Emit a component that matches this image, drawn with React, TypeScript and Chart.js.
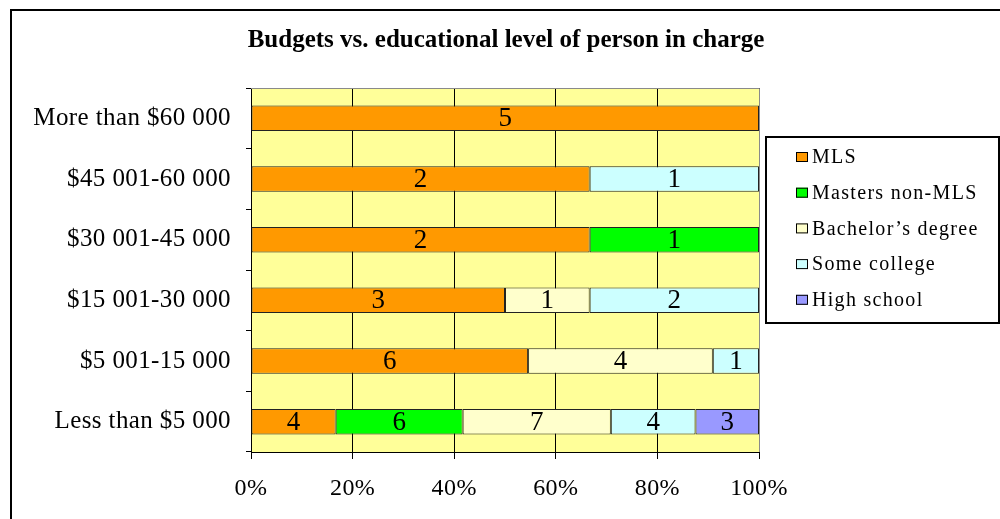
import React, { useEffect, useRef } from "react";
import { Chart, registerables } from "chart.js";
Chart.register(...registerables);

const titleText = "Budgets vs. educational level of person in charge";
const categories = [
  "More than $60 000",
  "$45 001-60 000",
  "$30 001-45 000",
  "$15 001-30 000",
  "$5 001-15 000",
  "Less than $5 000",
];
const seriesNames = ["MLS", "Masters non-MLS", "Bachelor’s degree", "Some college", "High school"];
const seriesColors = ["#FF9900", "#00FF00", "#FFFFCC", "#CCFFFF", "#9999FF"];
const mls = [5, 2, 2, 3, 6, 4];
const mastersNonMls = [null, null, 1, null, null, 6];
const bachelors = [null, null, null, 1, 4, 7];
const someCollege = [null, 1, null, 2, 1, 4];
const highSchool = [null, null, null, null, null, 3];
const xTickValues = [0, 20, 40, 60, 80, 100];

const FONT = "'Liberation Serif', 'Times New Roman', serif";

export default function App() {
  const ref = useRef<HTMLCanvasElement | null>(null);
  useEffect(() => {
    const canvas = ref.current;
    if (!canvas) return;
    const series = [mls, mastersNonMls, bachelors, someCollege, highSchool];
    const totals = categories.map((_, i) =>
      series.reduce((s, arr) => s + (arr[i] ?? 0), 0)
    );
    const datasets = series.map((arr, k) => ({
      label: seriesNames[k],
      data: arr.map((v, i) => (v == null ? null : (v / totals[i]) * 100)),
      counts: arr,
      backgroundColor: seriesColors[k],
      borderColor: "#222222",
      borderWidth: 1,
      borderSkipped: false,
      barPercentage: 0.42,
      categoryPercentage: 1,
    }));

    const decor = {
      id: "decor",
      beforeDraw(chart: any) {
        const { ctx, chartArea: a } = chart;
        (ctx as any).letterSpacing = "0.4px";
        ctx.save();
        ctx.fillStyle = "#ffffff";
        ctx.fillRect(0, 0, chart.width, chart.height);
        ctx.fillStyle = "#FFFF99";
        ctx.fillRect(a.left, a.top, a.right - a.left, a.bottom - a.top);
        // outer frame
        ctx.strokeStyle = "#000";
        ctx.lineWidth = 2;
        ctx.beginPath();
        ctx.moveTo(11, chart.height + 2);
        ctx.lineTo(11, 10);
        ctx.lineTo(chart.width + 2, 10);
        ctx.stroke();
        // title
        (ctx as any).letterSpacing = "0px";
        ctx.fillStyle = "#000";
        ctx.font = `bold 25px ${FONT}`;
        ctx.textAlign = "center";
        ctx.textBaseline = "middle";
        ctx.fillText(titleText, 506, 41);
        ctx.restore();
      },
      afterDraw(chart: any) {
        const { ctx, chartArea: a } = chart;
        ctx.save();
        // plot top/right border gray
        ctx.strokeStyle = "#8a8a8a";
        ctx.lineWidth = 1;
        ctx.beginPath();
        ctx.moveTo(a.left, a.top + 0.5);
        ctx.lineTo(a.right + 0.5, a.top + 0.5);
        ctx.lineTo(a.right + 0.5, a.bottom);
        ctx.stroke();
        // data labels
        (ctx as any).letterSpacing = "0px";
        ctx.fillStyle = "#000";
        ctx.font = `27px ${FONT}`;
        ctx.textAlign = "center";
        ctx.textBaseline = "middle";
        chart.data.datasets.forEach((ds: any, di: number) => {
          const meta = chart.getDatasetMeta(di);
          meta.data.forEach((el: any, i: number) => {
            const c = ds.counts[i];
            if (c == null) return;
            ctx.fillText(String(c), (el.x + el.base) / 2, el.y + 1);
          });
        });
        // legend
        const lx = 766, ly = 137, lw = 233, lh = 186;
        ctx.strokeStyle = "#000";
        ctx.lineWidth = 2;
        ctx.strokeRect(lx, ly, lw, lh);
        (ctx as any).letterSpacing = "1.3px";
        ctx.font = `20px ${FONT}`;
        ctx.textAlign = "left";
        chart.data.datasets.forEach((ds: any, di: number) => {
          const cy = 157 + di * 35.7;
          ctx.fillStyle = ds.backgroundColor;
          ctx.fillRect(796, cy - 5, 12, 10);
          ctx.lineWidth = 1;
          ctx.strokeStyle = "#000";
          ctx.strokeRect(796.5, cy - 4.5, 11, 9);
          ctx.fillStyle = "#000";
          ctx.fillText(ds.label, 812, cy + 1);
        });
        ctx.restore();
      },
    };

    const chart = new Chart(canvas, {
      type: "bar",
      data: { labels: categories, datasets: datasets as any },
      options: {
        indexAxis: "y",
        animation: false,
        responsive: false,
        layout: { padding: { top: 88, right: 241, bottom: 0, left: 0 } },
        plugins: { legend: { display: false }, title: { display: false }, tooltip: { enabled: false } },
        scales: {
          x: {
            stacked: true,
            min: 0,
            max: 100,
            afterFit(s: any) { s.height = 67; },
            afterBuildTicks(s: any) { s.ticks = xTickValues.map((v) => ({ value: v })); },
            ticks: {
              color: "#000",
              font: { family: FONT, size: 24 },
              padding: 15,
              callback: (v: any) => `${v}%`,
              maxRotation: 0,
            },
            grid: { color: "#000", lineWidth: 1, drawTicks: true, tickLength: 7, tickColor: "#000" },
            border: { display: true, color: "#000", width: 1 },
          },
          y: {
            stacked: true,
            afterFit(s: any) { s.width = 251; },
            ticks: { color: "#000", font: { family: FONT, size: 25 }, padding: 15 },
            grid: { drawOnChartArea: false, drawTicks: true, tickLength: 5, tickColor: "#000", offset: true },
            border: { display: true, color: "#000", width: 1 },
          },
        },
      },
      plugins: [decor],
    });
    return () => chart.destroy();
  }, []);
  return (
    <div style={{ position: "absolute", left: 0, top: 0, width: 1000, height: 519 }}>
      <canvas ref={ref} width={1000} height={519} />
    </div>
  );
}
